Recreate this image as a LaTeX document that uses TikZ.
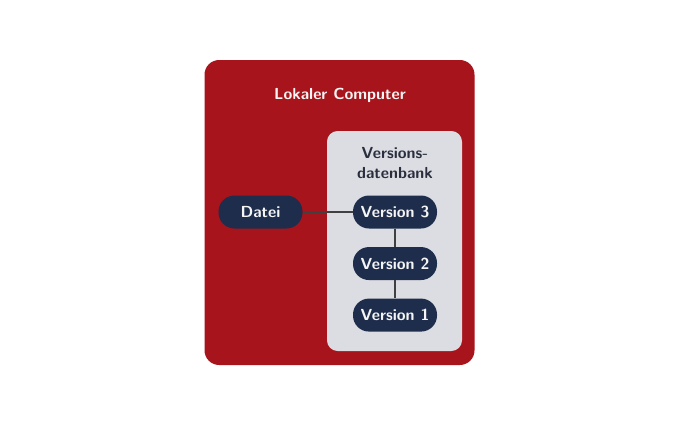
\documentclass[tikz,border=0pt]{standalone}
\usepackage{xcolor}
\usetikzlibrary{positioning}
\definecolor{lokalred}{HTML}{A8141B}
\definecolor{dbgray}{HTML}{DCDDE2}
\definecolor{navy}{HTML}{1F2D4D}
\definecolor{dbtext}{HTML}{2A2F3F}

\begin{document}
\begin{tikzpicture}[x=0.75pt,y=-0.75pt,font=\sffamily\bfseries,
    versbox/.style={fill=navy, text=white!92!gray, rounded corners=12pt,
        minimum width=63pt, minimum height=24.75pt, inner sep=0pt},
    link/.style={draw=black!75, line width=0.9pt}]
    \useasboundingbox (0,0) rectangle (680,425);

    % Lokaler Computer
    \node[fill=lokalred, rounded corners=11pt, minimum width=202.5pt,
        minimum height=228.75pt] (computer) at (339.5,212.5) {};
    \node[text=white!92!gray] (computerlabel) at (340,95) {\large Lokaler Computer};

    % Versionsdatenbank
    \node[fill=dbgray, rounded corners=8pt, minimum width=101.25pt,
        minimum height=165pt] (db) at (394.5,241) {};
    \node[text=dbtext, align=center, font=\sffamily\bfseries\large] (dblabel) at (395,163)
        {Versions-\\[1pt]datenbank};

    % Datei and versions
    \node[versbox] (datei) at (260.5,212) {\large Datei};
    \node[versbox] (v3) at (395,212) {\large Version 3};
    \node[versbox, below=13.5pt of v3] (v2) {\large Version 2};
    \node[versbox, below=13.5pt of v2] (v1) {\large Version 1};

    \draw[link] (datei) -- (v3);
    \draw[link] (v3) -- (v2);
    \draw[link] (v2) -- (v1);
\end{tikzpicture}
\end{document}
